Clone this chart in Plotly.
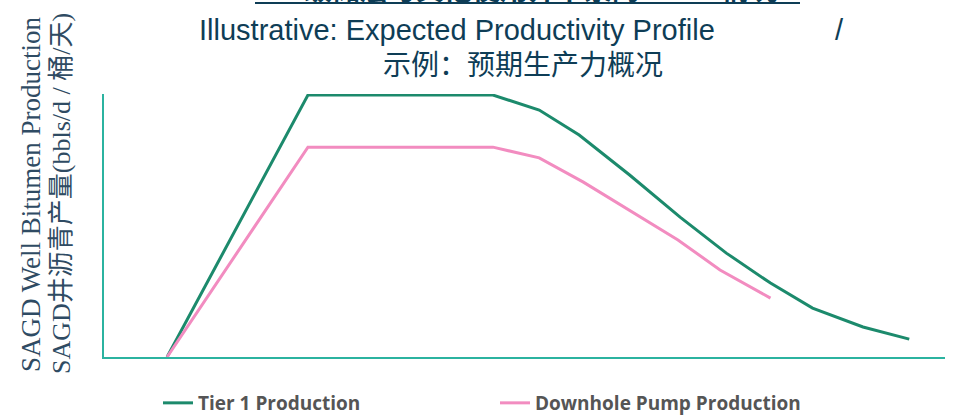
import plotly.graph_objects as go

# ---- data ----
x_tier1 = [1.5, 4.85, 9.25, 10.35, 11.3, 12.5, 13.7, 14.8, 15.85, 16.85, 18.05, 19.15]
y_tier1 = [0, 99.6, 99.6, 93.9, 84.4, 69.2, 53.2, 39.5, 28.1, 18.6, 11.4, 6.8]
x_pump = [1.5, 4.85, 9.25, 10.35, 11.4, 12.5, 13.65, 14.65, 15.85]
y_pump = [0, 79.8, 79.8, 75.7, 66.5, 55.9, 44.5, 33.1, 22.4]

series_names = ["Tier 1 Production", "Downhole Pump Production"]
title_top = "一级储层与其他使用井下泵的SAGD 情况"
title_en = "Illustrative: Expected Productivity Profile"
title_zh = "示例：预期生产力概况"
ytitle_1 = "SAGD Well Bitumen Production"
ytitle_2 = "SAGD井沥青产量(bbls/d / 桶/天)"

GREEN = "#1c8a6c"
PINK = "#f28cc0"
AXIS = "#2bb3a0"
NAVY = "#0e3d56"
YT = "#2f4b63"

W, H = 953, 417
L, R, T, B = 104, 8, 94, 60
pw, ph = W - L - R, H - T - B

def px(xp):
    return (xp - L) / pw

def py(yp):
    return (H - B - yp) / ph

fig = go.Figure()
fig.add_trace(go.Scatter(x=x_tier1, y=y_tier1, mode="lines", name=series_names[0],
                         line=dict(color=GREEN, width=3)))
fig.add_trace(go.Scatter(x=x_pump, y=y_pump, mode="lines", name=series_names[1],
                         line=dict(color=PINK, width=3)))

fig.update_xaxes(range=[0, 20], showline=True, linecolor=AXIS, linewidth=2,
                 showgrid=False, zeroline=False, showticklabels=False, ticks="")
fig.update_yaxes(range=[0, 100], showline=True, linecolor=AXIS, linewidth=2,
                 showgrid=False, zeroline=False, showticklabels=False, ticks="")

ann = []
ann.append(dict(text=title_top, x=px(527), y=py(-12), xref="paper", yref="paper",
                xanchor="center", yanchor="middle", showarrow=False,
                font=dict(family="Noto Sans CJK SC, Liberation Sans", size=28, color=NAVY, weight="bold")))
ann.append(dict(text=title_en, x=px(457), y=py(30), xref="paper", yref="paper",
                xanchor="center", yanchor="middle", showarrow=False,
                font=dict(family="Liberation Sans", size=29, color=NAVY)))
ann.append(dict(text="/", x=px(839), y=py(30), xref="paper", yref="paper",
                xanchor="center", yanchor="middle", showarrow=False,
                font=dict(family="Liberation Sans", size=29, color=NAVY)))
ann.append(dict(text=title_zh, x=px(523), y=py(63), xref="paper", yref="paper",
                xanchor="center", yanchor="middle", showarrow=False,
                font=dict(family="Noto Sans CJK SC", size=28, color=NAVY)))
ann.append(dict(text=ytitle_1, x=px(31), y=py(194), xref="paper", yref="paper",
                xanchor="center", yanchor="middle", showarrow=False, textangle=-90,
                font=dict(family="Liberation Serif", size=27, color=YT)))
ann.append(dict(text=ytitle_2, x=px(61), y=py(194), xref="paper", yref="paper",
                xanchor="center", yanchor="middle", showarrow=False, textangle=-90,
                font=dict(family="Liberation Serif, Noto Sans CJK SC", size=26, color=YT)))

fig.update_layout(
    width=W, height=H,
    margin=dict(l=L, r=R, t=T, b=B, autoexpand=False),
    paper_bgcolor="white", plot_bgcolor="white",
    annotations=ann,
    shapes=[dict(type="line", xref="paper", yref="paper", x0=px(255), x1=px(800),
                 y0=py(3), y1=py(3), line=dict(color=NAVY, width=2))],
    legend=dict(orientation="h", x=px(158), y=py(403), xanchor="left", yanchor="middle",
                entrywidth=292, entrywidthmode="pixels", borderwidth=0,
                font=dict(family="Open Sans", size=19, color="#555555", weight="bold"),
                bgcolor="rgba(0,0,0,0)"),
    showlegend=True,
)

fig.write_html("out.html")
